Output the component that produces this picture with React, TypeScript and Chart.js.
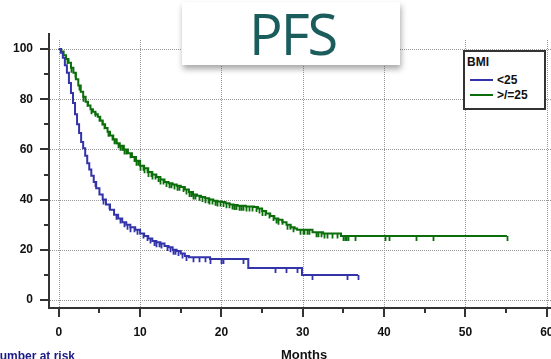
import React, { useEffect, useRef } from "react";
import { Chart, registerables } from "chart.js";

Chart.register(...registerables);

// ---- Data ----
const chartTitle = "PFS";
const legendTitle = "BMI";
const seriesLabels = ["<25", ">/=25"];
const xTitle = "Months";
const riskLabel = "Number at risk";

const xLabelTicks = [0, 10, 20, 30, 40, 50, 60];
const xAllTicks = [0, 5, 10, 15, 20, 25, 30, 35, 40, 45, 50, 55, 60];
const yLabelTicks = [0, 20, 40, 60, 80, 100];
const yAllTicks = [0, 10, 20, 30, 40, 50, 60, 70, 80, 90, 100];

// BMI < 25 (Kaplan-Meier step points: time in months, survival %)
const blueTimes = [
  0, 0.25, 0.5, 0.75, 1.0, 1.25, 1.5, 1.75, 2.0, 2.25, 2.5, 2.75, 3.0, 3.25, 3.5, 3.75,
  4.0, 4.3, 4.6, 5.0, 5.4, 5.8, 6.3, 6.8, 7.3, 7.8, 8.3, 8.8, 9.4, 10.0, 10.5, 11.0,
  11.5, 12.0, 12.5, 13.0, 13.5, 14.0, 14.5, 15.0, 15.5, 16.0, 18.6, 23.3, 29.9, 36.8,
];
const blueSurv = [
  100, 98.5, 96.5, 93.5, 90.5, 86.5, 82.5, 78.5, 74, 70, 66.5, 63, 60.5, 57.5, 54.5, 52,
  49.5, 47, 44.5, 42, 40, 38, 36, 34, 32.5, 31, 30, 29, 28, 26.5, 25.5, 24.5,
  23.5, 23, 22.5, 21.5, 21, 20, 19.5, 18.5, 17.5, 17, 16.3, 12.7, 10, 10,
];
const blueCensor = [
  4.5, 5.5, 6.2, 7, 7.5, 8, 8.4, 8.8, 9.2, 9.6, 10.3, 10.8, 11.2, 11.7, 12, 12.3, 12.6,
  13.3, 13.7, 14, 14.3, 14.6, 15.2, 15.7, 16.5, 17.3, 18, 18.6, 20, 20.2, 22.6, 26.6,
  27.9, 29.3, 31.1, 35.4, 36.8,
];

// BMI >= 25
const greenTimes = [
  0, 0.3, 0.6, 0.9, 1.2, 1.5, 1.8, 2.1, 2.4, 2.7, 3.0, 3.3, 3.6, 3.9, 4.2, 4.5, 4.8,
  5.1, 5.4, 5.7, 6.0, 6.3, 6.7, 7.1, 7.5, 8.0, 8.5, 9.0, 9.5, 10.0, 10.5, 11.0, 11.5,
  12.0, 12.5, 13.0, 13.5, 14.0, 14.5, 15.0, 15.5, 16.0, 16.5, 17.0, 17.5, 18.0, 18.5,
  19.0, 19.5, 20.0, 20.5, 21.0, 21.5, 22.0, 23.0, 24.0, 24.5, 25.0, 25.5, 26.0, 26.5,
  27.0, 27.5, 28.0, 28.5, 29.0, 29.3, 31.2, 32.5, 34.7, 55.1,
];
const greenSurv = [
  100, 99, 97.5, 96, 94.5, 92.5, 90.5, 88, 85.5, 83, 81, 79, 77.5, 76, 75, 74, 73,
  71.5, 70, 68.5, 67, 65.5, 64, 62.5, 61.5, 60, 58.5, 57, 55.5, 53.5, 52.5, 51, 50,
  49, 48, 47, 46.5, 46, 45.5, 45, 44, 43, 42, 41.5, 41, 40.5, 40,
  39.5, 39.2, 39, 38.5, 38, 37.8, 37.5, 37.2, 37, 36.5, 35.5, 34.5, 33.5, 32.5,
  32, 31, 30, 29, 28.5, 28, 27, 26.5, 25.5, 25.5,
];
const greenCensor = [
  1, 1.5, 2, 2.5, 3, 3.5, 4, 4.4, 5, 5.3, 5.6, 6, 6.5, 6.8, 7, 7.3, 7.5, 7.8, 8, 8.3,
  8.8, 9.2, 9.5, 9.8, 10, 10.3, 10.5, 10.8, 11, 11.3, 11.5, 11.8, 12.2, 12.5, 12.8,
  13.2, 13.5, 13.8, 14.2, 14.5, 14.8, 15.3, 15.7, 16, 16.3, 16.5, 16.8, 17.2, 17.6, 18,
  18.3, 18.5, 18.8, 19.2, 19.5, 19.8, 20.2, 20.6, 20.9, 21.3, 21.6, 21.8, 22.2, 22.4,
  22.7, 23, 23.4, 23.8, 24.2, 24.6, 25, 25.3, 25.8, 26.3, 26.7, 27, 27.4, 28, 28.4,
  28.8, 29.6, 30, 30.2, 30.5, 30.8, 31.6, 31.9, 32.3, 32.6, 33, 33.6, 34.2, 35, 35.2,
  35.3, 35.5, 35.6, 36.4, 40.1, 40.6, 43.9, 46, 55.1,
];

const BLUE = "#3333aa";
const GREEN = "#0b6e0b";
const AXIS = "#333333";
const TICK_FONT = "'Liberation Sans', Arial, Helvetica, sans-serif";

const CANVAS_W = 620;
const CANVAS_H = 362;

function survAt(times: number[], surv: number[], t: number) {
  let s = surv[0];
  for (let i = 0; i < times.length; i++) {
    if (times[i] <= t) s = surv[i];
    else break;
  }
  return s;
}

const dotGridPlugin = {
  id: "dotGrid",
  beforeDatasetsDraw(chart: any) {
    const { ctx, chartArea: a, scales } = chart;
    const x = scales.x;
    const y = scales.y;
    ctx.save();
    ctx.strokeStyle = "#999999";
    ctx.lineWidth = 1;
    ctx.setLineDash([1, 1]);
    ctx.beginPath();
    xLabelTicks.forEach((v) => {
      const px = Math.round(x.getPixelForValue(v)) + 0.5;
      ctx.moveTo(px, a.top);
      ctx.lineTo(px, a.bottom - 1);
    });
    yLabelTicks.forEach((v) => {
      const py = Math.round(y.getPixelForValue(v)) + 0.5;
      ctx.moveTo(a.left + 1, py);
      ctx.lineTo(a.right, py);
    });
    ctx.stroke();
    ctx.restore();
  },
};

const axisTicksPlugin = {
  id: "axisTicks",
  afterDraw(chart: any) {
    const { ctx, chartArea: a, scales } = chart;
    const x = scales.x;
    const y = scales.y;
    ctx.save();
    ctx.strokeStyle = AXIS;
    ctx.lineWidth = 2;
    ctx.beginPath();
    yAllTicks.forEach((v) => {
      const len = yLabelTicks.includes(v) ? 9 : 5;
      const py = Math.round(y.getPixelForValue(v));
      ctx.moveTo(a.left - len, py);
      ctx.lineTo(a.left, py);
    });
    xAllTicks.forEach((v) => {
      const len = xLabelTicks.includes(v) ? 9 : 5;
      const px = Math.round(x.getPixelForValue(v));
      ctx.moveTo(px, a.bottom);
      ctx.lineTo(px, a.bottom + len);
    });
    ctx.moveTo(a.left, a.top - 7);
    ctx.lineTo(a.left, a.top);
    ctx.stroke();
    ctx.restore();
  },
};

const censorPlugin = {
  id: "censorMarks",
  afterDatasetsDraw(chart: any) {
    const { ctx, scales } = chart;
    const x = scales.x;
    const y = scales.y;
    ctx.save();
    chart.data.datasets.forEach((ds: any) => {
      if (!ds.censorTimes) return;
      ctx.strokeStyle = ds.borderColor;
      ctx.lineWidth = 1.8;
      ctx.beginPath();
      ds.censorTimes.forEach((t: number) => {
        const s = survAt(ds.kmTimes, ds.kmSurv, t);
        const px = Math.round(x.getPixelForValue(t)) + 0.5;
        const py = y.getPixelForValue(s);
        ctx.moveTo(px, py);
        ctx.lineTo(px, py + 5);
      });
      ctx.stroke();
    });
    ctx.restore();
  },
};

function KMChart() {
  const canvasRef = useRef<HTMLCanvasElement | null>(null);

  useEffect(() => {
    if (!canvasRef.current) return;
    const chart = new Chart(canvasRef.current, {
      type: "line",
      data: {
        datasets: [
          {
            label: seriesLabels[0],
            data: blueTimes.map((t, i) => ({ x: t, y: blueSurv[i] })),
            borderColor: BLUE,
            backgroundColor: BLUE,
            borderWidth: 2,
            pointRadius: 0,
            stepped: "before",
            fill: false,
            kmTimes: blueTimes,
            kmSurv: blueSurv,
            censorTimes: blueCensor,
          } as any,
          {
            label: seriesLabels[1],
            data: greenTimes.map((t, i) => ({ x: t, y: greenSurv[i] })),
            borderColor: GREEN,
            backgroundColor: GREEN,
            borderWidth: 2,
            pointRadius: 0,
            stepped: "before",
            fill: false,
            kmTimes: greenTimes,
            kmSurv: greenSurv,
            censorTimes: greenCensor,
          } as any,
        ],
      },
      options: {
        animation: false,
        responsive: true,
        maintainAspectRatio: false,
        events: [],
        layout: { padding: { top: 40, right: CANVAS_W - 559, left: 0, bottom: 0 } },
        plugins: {
          legend: { display: false },
          title: { display: false },
          tooltip: { enabled: false },
        },
        scales: {
          x: {
            type: "linear",
            min: -1.2,
            max: 61.5,
            afterBuildTicks: (s: any) => {
              s.ticks = xLabelTicks.map((v) => ({ value: v }));
            },
            afterFit: (s: any) => {
              s.height = CANVAS_H - 308;
            },
            ticks: {
              autoSkip: false,
              maxRotation: 0,
              padding: 17,
              color: "#111",
              font: { family: TICK_FONT, size: 12, weight: "bold" },
            },
            grid: { display: false, drawTicks: false },
            border: { display: true, color: AXIS, width: 2 },
            title: {
              display: true,
              text: xTitle,
              color: "#111",
              font: { family: TICK_FONT, size: 13, weight: "bold", lineHeight: 1 },
              padding: 0,
            },
          },
          y: {
            type: "linear",
            min: -3.2,
            max: 103.6,
            afterBuildTicks: (s: any) => {
              s.ticks = yLabelTicks.map((v) => ({ value: v }));
            },
            afterFit: (s: any) => {
              s.width = 49;
            },
            ticks: {
              autoSkip: false,
              padding: 16,
              color: "#111",
              font: { family: TICK_FONT, size: 12, weight: "bold" },
            },
            grid: { display: false, drawTicks: false },
            border: { display: true, color: AXIS, width: 2 },
          },
        },
      },
      plugins: [dotGridPlugin, censorPlugin, axisTicksPlugin],
    });
    return () => chart.destroy();
  }, []);

  return (
    <div style={{ position: "absolute", left: 0, top: 0, width: CANVAS_W, height: CANVAS_H }}>
      <canvas ref={canvasRef} />
    </div>
  );
}

export default function App() {
  const legendText: React.CSSProperties = {
    position: "absolute",
    fontFamily: TICK_FONT,
    fontWeight: "bold",
    fontSize: 12,
    lineHeight: "12px",
    color: "#111",
    whiteSpace: "nowrap",
  };
  return (
    <div
      style={{
        position: "fixed",
        left: 0,
        top: 0,
        width: 551,
        height: 359,
        overflow: "hidden",
        background: "#fff",
      }}
    >
      <KMChart />

      {/* Title card */}
      <div
        style={{
          position: "absolute",
          left: 182,
          top: 2,
          width: 218,
          height: 63,
          background: "#fff",
          boxShadow: "1px 4px 6px rgba(0,0,0,0.35)",
        }}
      />
      <div
        style={{
          position: "absolute",
          left: 249,
          top: 5,
          fontFamily: "'Open Sans', sans-serif",
          fontSize: 56,
          lineHeight: "56px",
          color: "#1b5c5c",
          letterSpacing: -2,
          whiteSpace: "nowrap",
        }}
      >
        {chartTitle}
      </div>

      {/* Legend */}
      <div
        style={{
          position: "absolute",
          left: 463,
          top: 50,
          width: 83,
          height: 60,
          boxSizing: "border-box",
          border: `2px solid ${AXIS}`,
          background: "#fff",
        }}
      >
        <div style={{ ...legendText, left: 2, top: 4 }}>{legendTitle}</div>
        <div style={{ position: "absolute", left: 5, top: 27, width: 23, height: 2, background: BLUE }} />
        <div style={{ ...legendText, left: 32, top: 22 }}>{seriesLabels[0]}</div>
        <div style={{ position: "absolute", left: 5, top: 42, width: 23, height: 2, background: GREEN }} />
        <div style={{ ...legendText, left: 32, top: 37 }}>{seriesLabels[1]}</div>
      </div>

      {/* Number at risk (cut off at the left edge) */}
      <div
        style={{
          ...legendText,
          left: -9,
          top: 350,
          color: "#1a1a88",
        }}
      >
        {riskLabel}
      </div>
    </div>
  );
}
